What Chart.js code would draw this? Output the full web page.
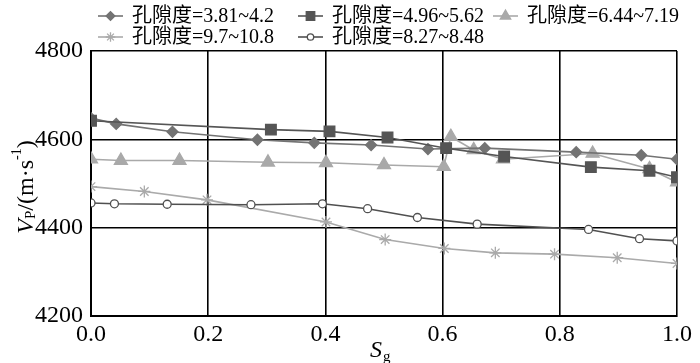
<!DOCTYPE html>
<html><head><meta charset="utf-8">
<script src="https://cdn.jsdelivr.net/npm/chart.js@4/dist/chart.umd.min.js"></script>
<style>html,body{margin:0;padding:0;background:#fff;}#wrap{width:700px;height:363px;position:relative;}</style>
</head><body><div id="wrap"><canvas id="c" width="700" height="363"></canvas></div>
<script>
// ---- data ----
const seriesNames = ['孔隙度=3.81~4.2','孔隙度=4.96~5.62','孔隙度=6.44~7.19','孔隙度=9.7~10.8','孔隙度=8.27~8.48'];
const sg1 = [0.0, 0.043, 0.139, 0.284, 0.381, 0.478, 0.575, 0.672, 0.828, 0.939, 1.0];
const vp1 = [4648, 4635, 4617, 4599, 4592, 4587, 4578, 4580, 4571, 4564, 4555];
const sg2 = [0.0, 0.307, 0.407, 0.506, 0.606, 0.705, 0.853, 0.953, 1.0];
const vp2 = [4642, 4622, 4618, 4604, 4580, 4561, 4537, 4529, 4514];
const sg3 = [0.0, 0.051, 0.151, 0.302, 0.401, 0.5, 0.602, 0.614, 0.653, 0.703, 0.856, 0.953, 1.0];
const vp3 = [4555, 4552, 4552, 4548, 4547, 4542, 4538, 4606, 4576, 4555, 4568, 4533, 4503];
const sg4 = [0.0, 0.091, 0.198, 0.401, 0.502, 0.603, 0.69, 0.791, 0.898, 1.0];
const vp4 = [4493, 4482, 4463, 4413, 4373, 4353, 4343, 4340, 4332, 4319];
const sg5 = [0.0, 0.04, 0.13, 0.273, 0.395, 0.472, 0.557, 0.659, 0.849, 0.936, 1.0];
const vp5 = [4456, 4454, 4453, 4452, 4454, 4443, 4423, 4408, 4396, 4375, 4370];
const xTicks = [0.0, 0.2, 0.4, 0.6, 0.8, 1.0];
const yTicks = [4200, 4400, 4600, 4800];

const pairs = (xs, ys) => xs.map((x, i) => ({x: x, y: ys[i]}));
const styles = [
  {c:'#737373', ps:'rectRot', r:5.5, bg:'#737373'},
  {c:'#555555', ps:'rect', r:7.5, bg:'#555555'},
  {c:'#a9a9a9', ps:'triangle', r:7.5, bg:'#a9a9a9'},
  {c:'#aaaaaa', ps:'star', r:6, bg:'#aaaaaa'},
  {c:'#505050', ps:'circle', r:4, bg:'#ffffff'}
];
const allData = [pairs(sg1,vp1), pairs(sg2,vp2), pairs(sg3,vp3), pairs(sg4,vp4), pairs(sg5,vp5)];
const datasets = allData.map((d, i) => ({
  label: seriesNames[i], data: d,
  borderColor: styles[i].c, backgroundColor: styles[i].bg,
  pointStyle: styles[i].ps, pointRadius: styles[i].r,
  pointBorderColor: styles[i].c, pointBackgroundColor: styles[i].bg,
  pointBorderWidth: 1.3, borderWidth: 1.6, tension: 0, fill: false,
  order: [3,1,4,5,2][i]
}));

const SERIF = "'Liberation Serif','Times New Roman','Noto Sans CJK SC',serif";

const customText = {
  id: 'customText',
  afterDraw(chart) {
    const ctx = chart.ctx;
    ctx.save();
    // legend
    const cols = [98, 298, 493];
    const rows = [16, 37];
    const slots = [[0,0],[1,0],[2,0],[0,1],[1,1]];
    ctx.font = "20px " + SERIF;
    ctx.textBaseline = 'middle';
    ctx.textAlign = 'left';
    slots.forEach((s, i) => {
      const x0 = cols[s[0]], y = rows[s[1]];
      ctx.strokeStyle = styles[i].c; ctx.lineWidth = 1.6;
      ctx.beginPath(); ctx.moveTo(x0, y); ctx.lineTo(x0 + 25, y); ctx.stroke();
      ctx.fillStyle = styles[i].bg; ctx.strokeStyle = styles[i].c; ctx.lineWidth = 1.3;
      Chart.helpers.drawPoint(ctx, {pointStyle: styles[i].ps, radius: styles[i].r * 0.8, borderWidth: 1.3, rotation: 0}, x0 + 12.5, y);
      ctx.fillStyle = '#000';
      ctx.fillText(seriesNames[i], x0 + 34, y + 1);
    });
    // x title S_g
    ctx.fillStyle = '#000';
    ctx.textBaseline = 'alphabetic';
    ctx.font = "italic 24px " + SERIF;
    ctx.fillText('S', 370, 357);
    const sw = ctx.measureText('S').width;
    ctx.font = "15px " + SERIF;
    ctx.fillText('g', 370 + sw + 1, 361);
    // y title V_P/(m·s^-1)
    ctx.translate(25, 187);
    ctx.rotate(-Math.PI / 2);
    const parts = [
      {t:'V', f:"italic 24px " + SERIF, dy:0},
      {t:'P', f:"15px " + SERIF, dy:4},
      {t:'/(m·s', f:"24px " + SERIF, dy:0},
      {t:'-1', f:"14px " + SERIF, dy:-10},
      {t:')', f:"24px " + SERIF, dy:0}
    ];
    let total = 0;
    parts.forEach(p => { ctx.font = p.f; p.w = ctx.measureText(p.t).width; total += p.w; });
    let x = -total / 2;
    ctx.textBaseline = 'middle';
    parts.forEach(p => { ctx.font = p.f; ctx.fillText(p.t, x, p.dy + 2); x += p.w; });
    ctx.restore();
  }
};

new Chart(document.getElementById('c'), {
  type: 'line',
  data: { datasets: datasets },
  options: {
    responsive: false, animation: false, devicePixelRatio: 1,
    layout: { padding: { top: 51, right: 23, left: 0, bottom: 0 } },
    plugins: { legend: { display: false }, tooltip: { enabled: false } },
    scales: {
      x: {
        type: 'linear', min: 0, max: 1,
        afterBuildTicks: (s) => { s.ticks = xTicks.map(v => ({value: v})); },
        afterFit: (s) => { s.height = 47; },
        grid: { color: '#000', lineWidth: 1.6, drawTicks: false },
        border: { color: '#000', width: 2 },
        ticks: { color: '#000', padding: 4, font: { family: SERIF, size: 24 }, callback: v => Number(v).toFixed(1), maxRotation: 0 }
      },
      y: {
        min: 4200, max: 4800,
        afterBuildTicks: (s) => { s.ticks = yTicks.map(v => ({value: v})); },
        afterFit: (s) => { s.width = 91; },
        grid: { color: '#000', lineWidth: 1.6, drawTicks: false },
        border: { color: '#000', width: 2 },
        ticks: { color: '#000', padding: 8, font: { family: SERIF, size: 24 }, callback: v => String(v) }
      }
    }
  },
  plugins: [customText]
});
</script></body></html>
